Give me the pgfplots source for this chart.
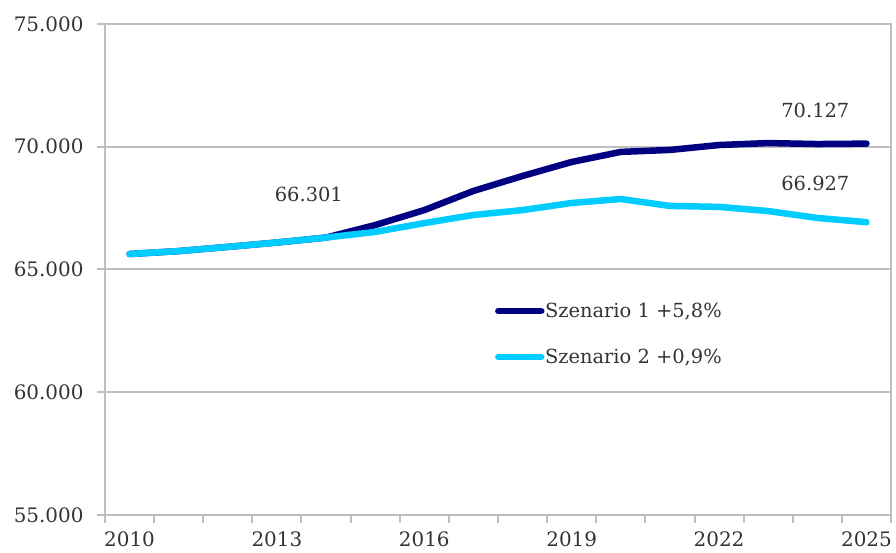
\documentclass[border=0pt]{standalone}
\usepackage{pgfplots}
\pgfplotsset{compat=1.18}
\usepackage{fontspec}
\setmainfont{DejaVu Serif}

\definecolor{szeins}{HTML}{000080}
\definecolor{szzwei}{HTML}{00CCFF}
\definecolor{rahmen}{HTML}{BFBFBF}
\definecolor{schrift}{HTML}{333333}

\begin{document}
\begin{tikzpicture}
	\begin{axis}[at={(105bp,38bp)}, anchor=south west,
	scale only axis, width=786bp, height=491bp,
	xmin=2009.5, xmax=2025.5, ymin=55000, ymax=75000,
	xtick={2009.5,2010.5,...,2025.5},
	x tick label as interval,
	xticklabels={2010,,,2013,,,2016,,,2019,,,2022,,,2025},
	ytick={55000,60000,...,75000},
	scaled y ticks=false,
	yticklabel={\pgfmathprintnumber[fixed, precision=0, 1000 sep={.}]{\tick}},
	xtick pos=bottom, ytick pos=left,
	tick align=outside, major tick length=8bp,
	tick style={rahmen, line width=2bp},
	axis line style={rahmen, line width=2.5bp},
	ymajorgrids, grid style={rahmen, line width=2bp},
	/pgf/number format/assume math mode=true,
	ticklabel style={font=\fontsize{20}{24}\selectfont, text=schrift},
	yticklabel style={xshift=-10bp},
	xticklabel style={yshift=-5bp},
	legend style={at={(rel axis cs:0.4960,0.3686)}, anchor=west,
		draw=none, fill=none, font=\fontsize{19.5}{23}\selectfont,
		text=schrift, row sep=29bp, inner sep=0pt,
		nodes={inner sep=0.5bp}},
	legend cell align=left,
	legend image code/.code={\draw[#1, line width=6.5bp, line cap=round] (0bp,0bp) -- (43bp,0bp);},
	every axis plot/.append style={line width=6.5bp, line cap=round, line join=round, no marks},
	]
	\addplot[szeins] table[]
	{
		x	y
		2010	65630
		2011	65750
		2012	65920
		2013	66100
		2014	66301
		2015	66810
		2016	67420
		2017	68200
		2018	68810
		2019	69380
		2020	69790
		2021	69870
		2022	70070
		2023	70150
		2024	70110
		2025	70127
	};
	\addlegendentry{Szenario 1 +5,8\%}
	\addplot[szzwei] table[]
	{
		x	y
		2010	65630
		2011	65750
		2012	65920
		2013	66100
		2014	66301
		2015	66530
		2016	66890
		2017	67220
		2018	67420
		2019	67710
		2020	67870
		2021	67590
		2022	67550
		2023	67380
		2024	67100
		2025	66927
	};
	\addlegendentry{Szenario 2 +0,9\%}
	\node[font=\fontsize{19.5}{23}\selectfont, text=schrift] at (axis cs:2013.65,68075) {66.301};
	\node[font=\fontsize{19.5}{23}\selectfont, text=schrift] at (axis cs:2023.96,71497) {70.127};
	\node[font=\fontsize{19.5}{23}\selectfont, text=schrift] at (axis cs:2023.96,68523) {66.927};
	\end{axis}
	\pgfresetboundingbox
	\path[use as bounding box] (0,0) rectangle (896bp,553bp);
\end{tikzpicture}
\end{document}
